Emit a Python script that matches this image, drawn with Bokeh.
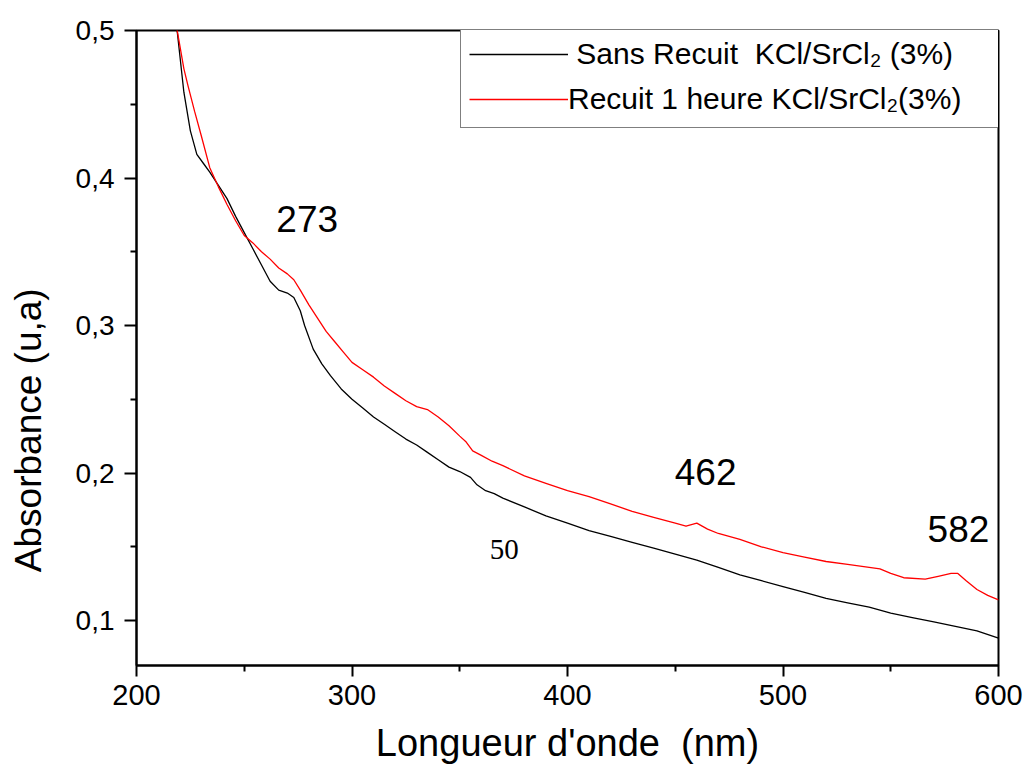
from bokeh.plotting import figure
from bokeh.models import FixedTicker, CustomJSTickFormatter, Legend, LegendItem, Range1d
from bokeh.embed import file_html
from bokeh.resources import INLINE
from bokeh.core.properties import value

# --- data ---
wl_sans = [217, 219, 222, 225, 228, 231, 234, 238, 242, 246, 250, 254, 258, 262, 266, 270,
           273, 276, 278, 282, 286, 290, 295, 300, 305, 310, 315, 320, 325, 330, 335, 340,
           345, 350, 355, 358, 362, 366, 370, 380, 390, 400, 410, 420, 430, 440, 450, 460,
           470, 480, 490, 500, 510, 520, 530, 540, 550, 560, 570, 580, 590, 600]
abs_sans = [0.515, 0.498, 0.458, 0.432, 0.416, 0.410, 0.404, 0.395, 0.386, 0.374, 0.363,
            0.352, 0.341, 0.330, 0.324, 0.322, 0.319, 0.310, 0.300, 0.284, 0.274, 0.266,
            0.257, 0.250, 0.244, 0.238, 0.233, 0.228, 0.223, 0.219, 0.214, 0.209, 0.204,
            0.201, 0.197, 0.192, 0.188, 0.186, 0.183, 0.177, 0.171, 0.166, 0.161, 0.157,
            0.153, 0.149, 0.145, 0.141, 0.136, 0.131, 0.127, 0.123, 0.119, 0.115, 0.112,
            0.109, 0.105, 0.102, 0.099, 0.096, 0.093, 0.088]

wl_recuit = [217, 219, 222, 224, 227, 230, 234, 238, 242, 246, 250, 254, 258, 262, 266, 270,
             273, 276, 280, 284, 288, 292, 296, 300, 305, 310, 315, 320, 325, 330, 335, 340,
             345, 350, 353, 356, 360, 365, 370, 380, 390, 400, 410, 420, 430, 440, 450, 455,
             460, 465, 470, 480, 490, 500, 510, 520, 530, 540, 545, 550, 556, 566, 572, 578,
             581, 585, 590, 595, 600]
abs_recuit = [0.515, 0.499, 0.474, 0.462, 0.445, 0.429, 0.407, 0.394, 0.382, 0.371, 0.361,
              0.356, 0.350, 0.345, 0.339, 0.335, 0.331, 0.324, 0.314, 0.305, 0.296, 0.289,
              0.282, 0.275, 0.270, 0.265, 0.259, 0.254, 0.249, 0.245, 0.243, 0.238, 0.232,
              0.225, 0.221, 0.215, 0.212, 0.208, 0.205, 0.198, 0.193, 0.188, 0.184, 0.179,
              0.174, 0.170, 0.166, 0.164, 0.166, 0.162, 0.159, 0.155, 0.150, 0.146, 0.143,
              0.140, 0.138, 0.136, 0.135, 0.132, 0.129, 0.128, 0.130, 0.132, 0.132, 0.127,
              0.121, 0.117, 0.114]

x_ticks = [200, 300, 400, 500, 600]
x_minor = [250, 350, 450, 550]
y_ticks = [0.1, 0.2, 0.3, 0.4, 0.5]
y_minor = [0.15, 0.25, 0.35, 0.45]

peak_labels = ["273", "462", "582"]
peak_x = [279.2, 464.1, 581.4]
peak_y = [0.3722, 0.2007, 0.162]

note_label = ["50"]
note_x = [370.7]
note_y = [0.1481]

legend_labels = ["\u00a0Sans Recuit \u00a0KCl/SrCl\u2082 (3%)", "Recuit 1 heure KCl/SrCl\u2082(3%)"]
x_title = "Longueur d'onde \u00a0(nm)"
y_title = "Absorbance (u,a)"

FONT = "Liberation Sans"

p = figure(width=1025, height=778, output_backend="svg", toolbar_location=None,
           x_range=Range1d(200, 600), y_range=Range1d(0.0695, 0.5),
           min_border_left=136, min_border_right=27, min_border_top=30, min_border_bottom=113,
           background_fill_color="white", border_fill_color="white")
p.grid.visible = False
p.outline_line_color = "black"
p.outline_line_width = 2
p.outline_line_alpha = 1

r_sans = p.line(wl_sans, abs_sans, line_color="black", line_width=1.3)
r_rec = p.line(wl_recuit, abs_recuit, line_color="#ff0000", line_width=1.3)

p.text(x=peak_x, y=peak_y, text=peak_labels, text_font=value(FONT), text_font_size="37px",
       text_align="center", text_baseline="middle", text_color="black")
p.text(x=note_x, y=note_y, text=note_label, text_font=value("Liberation Serif"),
       text_font_size="29px", text_align="center", text_baseline="middle", text_color="black")

# axes
p.xaxis.ticker = FixedTicker(ticks=x_ticks, minor_ticks=x_minor)
p.yaxis.ticker = FixedTicker(ticks=y_ticks, minor_ticks=y_minor)
p.yaxis.formatter = CustomJSTickFormatter(code="return tick.toFixed(1).replace('.', ',');")

for ax in (p.xaxis[0], p.yaxis[0]):
    ax.axis_line_width = 2
    ax.axis_line_color = "black"
    ax.major_tick_line_width = 2
    ax.minor_tick_line_width = 2
    ax.major_tick_line_color = "black"
    ax.minor_tick_line_color = "black"
    ax.major_tick_in = 0
    ax.minor_tick_in = 0
    ax.minor_tick_out = 6
    ax.major_label_text_font = FONT
    ax.major_label_text_color = "black"
    ax.axis_label_text_font = FONT
    ax.axis_label_text_font_style = "normal"
    ax.axis_label_text_font_size = "37px"
    ax.axis_label_text_color = "black"

p.xaxis.major_tick_out = 11
p.yaxis.major_tick_out = 12
p.xaxis.major_label_text_font_size = "29px"
p.yaxis.major_label_text_font_size = "28px"
p.xaxis.major_label_standoff = 8
p.yaxis.major_label_standoff = 10
p.xaxis.axis_label = x_title
p.xaxis.axis_label_text_font_size = "38px"
# trailing no-break spaces move the visible title down the axis, as in the reference
p.yaxis.axis_label = y_title + "\u00a0" * 16
p.xaxis.axis_label_standoff = 14
p.yaxis.axis_label_standoff = 24

legend = Legend(items=[LegendItem(label=legend_labels[0], renderers=[r_sans]),
                       LegendItem(label=legend_labels[1], renderers=[r_rec])],
                location=(324, 537), orientation="vertical",
                label_text_font=FONT, label_text_font_size="30px", label_text_color="black",
                glyph_width=99, glyph_height=40, label_height=40, label_width=423,
                label_standoff=0, spacing=5, padding=8, margin=0,
                border_line_color="black", border_line_width=1.5,
                background_fill_color="white", background_fill_alpha=1.0)
p.add_layout(legend)

open("out.html", "w").write(file_html(p, INLINE))
